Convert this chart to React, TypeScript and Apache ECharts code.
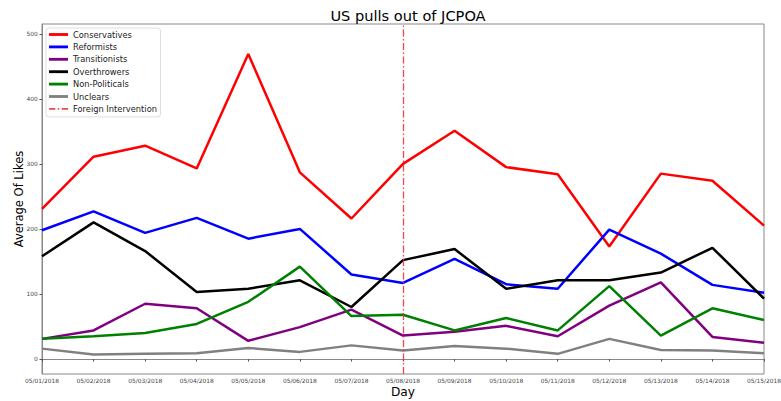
import React, { useEffect, useRef } from "react";
import * as echarts from "echarts";

const days = [
  "05/01/2018", "05/02/2018", "05/03/2018", "05/04/2018", "05/05/2018",
  "05/06/2018", "05/07/2018", "05/08/2018", "05/09/2018", "05/10/2018",
  "05/11/2018", "05/12/2018", "05/13/2018", "05/14/2018", "05/15/2018",
];

const conservatives = [231, 311, 328, 293, 469, 287, 216, 300, 351, 295, 284, 173, 285, 274, 205];
const reformists = [198, 227, 194, 217, 185, 200, 130, 117, 154, 115, 108, 199, 162, 114, 102];
const transitionists = [31, 44, 85, 78, 28, 49, 76, 36, 42, 51, 35, 82, 118, 34, 25];
const overthrowers = [158, 210, 166, 103, 108, 121, 80, 152, 169, 108, 121, 121, 133, 171, 93];
const nonPoliticals = [31, 35, 40, 54, 88, 142, 66, 68, 44, 63, 44, 112, 36, 78, 60];
const unclears = [16, 7, 8, 9, 17, 11, 21, 13, 20, 16, 8, 31, 14, 13, 9];

const yTicks = [0, 100, 200, 300, 400, 500];
const interventionDay = "05/08/2018";

const seriesDefs = [
  { name: "Conservatives", data: conservatives, color: "#ff0000" },
  { name: "Reformists", data: reformists, color: "#0000ff" },
  { name: "Transitionists", data: transitionists, color: "#800080" },
  { name: "Overthrowers", data: overthrowers, color: "#000000" },
  { name: "Non-Politicals", data: nonPoliticals, color: "#008000" },
  { name: "Unclears", data: unclears, color: "#808080" },
];

const FONT = "DejaVu Sans, sans-serif";
const SOLID_ICON = "path://M0,0H20V3H0Z";
const DASH_ICON = "path://M0,0.6H6.5V2.4H0ZM9,0.6H10.5V2.4H9ZM13,0.6H19.5V2.4H13Z";
const RED = "rgba(240,40,40,0.85)";

export default function App() {
  const ref = useRef<HTMLDivElement>(null);

  useEffect(() => {
    document.body.style.margin = "0";
    if (!ref.current) return;
    const chart = echarts.init(ref.current, null, { renderer: "svg" });
    const dash = [7, 2.5, 1.5, 2.5];
    chart.setOption({
      animation: false,
      backgroundColor: "#ffffff",
      textStyle: { fontFamily: FONT },
      title: {
        text: "US pulls out of JCPOA",
        left: 403,
        textAlign: "center",
        top: 3,
        textStyle: { fontFamily: FONT, fontSize: 14.6, fontWeight: "normal", color: "#000" },
      },
      legend: {
        orient: "vertical",
        left: 46,
        top: 28,
        itemWidth: 19,
        itemHeight: 3,
        itemGap: 2.4,
        padding: [1.5, 3.5, 3, 3],
        backgroundColor: "rgba(255,255,255,0.85)",
        borderColor: "#dddddd",
        borderWidth: 1,
        borderRadius: 3,
        textStyle: { fontFamily: FONT, fontSize: 8.3, color: "#222", lineHeight: 10 },
        data: [
          ...seriesDefs.map((s) => ({ name: s.name, icon: SOLID_ICON })),
          { name: "Foreign Intervention", icon: DASH_ICON },
        ],
      },
      grid: {
        left: 42,
        right: 17,
        top: 24,
        bottom: 27,
        outerBoundsMode: "none",
        containLabel: false,
        show: true,
        borderColor: "#888888",
        borderWidth: 1,
        backgroundColor: "transparent",
      },
      xAxis: {
        type: "category",
        data: days,
        boundaryGap: false,
        name: "Day",
        nameLocation: "middle",
        nameGap: 11.5,
        nameMoveOverlap: false,
        nameTextStyle: { fontFamily: FONT, fontSize: 12.2, color: "#000" },
        axisLine: { show: true, lineStyle: { color: "#888888" } },
        axisTick: { show: true, alignWithLabel: true, length: 2.5, lineStyle: { color: "#555" } },
        axisLabel: { fontFamily: FONT, fontSize: 5.9, color: "#444", margin: 4, interval: 0 },
        splitLine: { show: false },
      },
      yAxis: {
        type: "value",
        min: -23,
        max: 515,
        name: "Average Of Likes",
        nameLocation: "middle",
        nameGap: 17.5,
        nameMoveOverlap: false,
        nameTextStyle: { fontFamily: FONT, fontSize: 11.5, color: "#000" },
        axisLine: { show: true, lineStyle: { color: "#888888" } },
        axisTick: { show: true, length: 2.5, customValues: yTicks, lineStyle: { color: "#555" } },
        axisLabel: { fontFamily: FONT, fontSize: 5.9, color: "#444", margin: 4.3, customValues: yTicks },
        splitLine: { show: false },
      },
      series: [
        ...seriesDefs.map((s) => ({
          name: s.name,
          type: "line",
          data: s.data,
          symbol: "none",
          showSymbol: false,
          lineStyle: { color: s.color, width: 2.5 },
          itemStyle: { color: s.color },
          emphasis: { disabled: true },
          z: 3,
        })),
        {
          name: "Foreign Intervention",
          type: "line",
          data: [],
          symbol: "none",
          lineStyle: { color: RED, width: 1.3, type: dash },
          itemStyle: { color: RED },
          markLine: {
            silent: true,
            symbol: ["none", "none"],
            label: { show: false },
            lineStyle: { color: RED, width: 1.3, type: dash },
            data: [{ xAxis: interventionDay }],
          },
          z: 2,
        },
      ],
    });
    return () => chart.dispose();
  }, []);

  return <div ref={ref} style={{ width: 781, height: 401 }} />;
}
